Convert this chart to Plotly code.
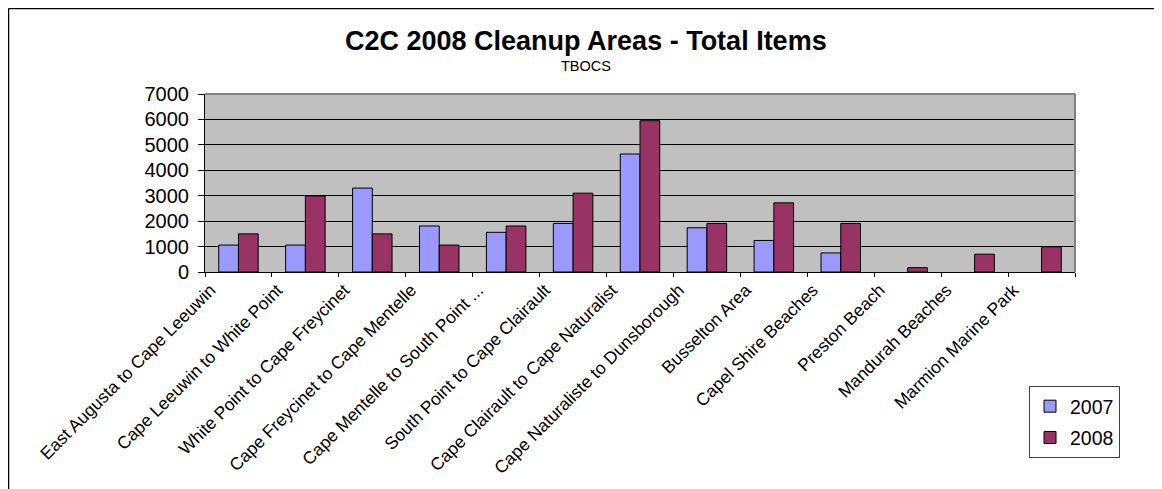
import plotly.graph_objects as go

categories = [
    "East Augusta to Cape Leeuwin",
    "Cape Leeuwin to White Point",
    "White Point to Cape Freycinet",
    "Cape Freycinet to Cape Mentelle",
    "Cape Mentelle to South Point ...",
    "South Point to Cape Clairault",
    "Cape Clairault to Cape Naturalist",
    "Cape Naturaliste to Dunsborough",
    "Busselton Area",
    "Capel Shire Beaches",
    "Preston Beach",
    "Mandurah Beaches",
    "Marmion Marine Park",
]
values_2007 = [1060, 1060, 3300, 1810, 1560, 1910, 4640, 1740, 1240, 750, None, None, None]
values_2008 = [1500, 2990, 1500, 1060, 1810, 3100, 5950, 1910, 2720, 1910, 170, 700, 990]
y_ticks = [0, 1000, 2000, 3000, 4000, 5000, 6000, 7000]

FONT = "Liberation Sans, Arial, sans-serif"

# page body has an 8px margin; work in reference-image pixels and subtract it
OFF = 8
W, H = 1162 - OFF, 489 - OFF
PLOT_L, PLOT_R, PLOT_T, PLOT_B = 205, 1075, 94, 272   # reference pixels
L = PLOT_L - OFF
T = PLOT_T - OFF
R = W - (PLOT_R - OFF)
B = H - (PLOT_B - OFF)
PW, PH = W - L - R, H - T - B

def px_x(p):
    return (p - OFF - L) / PW

def px_y(p):
    return (H - B - (p - OFF)) / PH

fig = go.Figure()
fig.add_trace(go.Bar(
    name="2007", x=categories, y=values_2007,
    marker=dict(color="#9999FF", line=dict(color="black", width=1)),
    legendgroup="a",
))
fig.add_trace(go.Bar(
    name="2008", x=categories, y=values_2008,
    marker=dict(color="#993366", line=dict(color="black", width=1)),
    legendgroup="b",
))

fig.update_layout(
    width=W, height=H,
    margin=dict(l=L, r=R, t=T, b=B, autoexpand=False),
    paper_bgcolor="white",
    plot_bgcolor="#C0C0C0",
    barmode="group",
    bargap=0.41,
    bargroupgap=0,
    font=dict(family=FONT, color="black"),
    showlegend=True,
    legend=dict(
        x=px_x(1029), y=px_y(386), xanchor="left", yanchor="top",
        bgcolor="white", bordercolor="#404040", borderwidth=1,
        font=dict(size=19.5, family=FONT),
        tracegroupgap=3,
    ),
)

fig.update_xaxes(
    type="category",
    tickangle=-45,
    tickfont=dict(size=17.5, family=FONT),
    showline=True, linecolor="black", linewidth=1,
    ticks="outside", ticklen=4, tickcolor="black",
    tickson="boundaries",
    showgrid=False,
    ticklabelshift=-28,
)
fig.update_yaxes(
    range=[0, 7000],
    tickvals=y_ticks,
    tickfont=dict(size=20, family=FONT),
    showline=True, linecolor="black", linewidth=1,
    ticks="outside", ticklen=6, tickcolor="black",
    ticklabelstandoff=5,
    showgrid=True, gridcolor="black", gridwidth=1,
    zeroline=False,
)

shapes = [
    # plot area border (top, right) in grey
    dict(type="line", xref="paper", yref="paper", x0=0, x1=1, y0=1, y1=1,
         line=dict(color="#808080", width=2), layer="above"),
    dict(type="line", xref="paper", yref="paper", x0=1, x1=1, y0=0, y1=1,
         line=dict(color="#808080", width=2), layer="above"),
    # outer chart border (top and left edges visible)
    dict(type="line", xref="paper", yref="paper", x0=px_x(8.5), x1=px_x(1170),
         y0=px_y(8.5), y1=px_y(8.5), line=dict(color="black", width=1.5)),
    dict(type="line", xref="paper", yref="paper", x0=px_x(8.5), x1=px_x(8.5),
         y0=px_y(8.5), y1=px_y(500), line=dict(color="black", width=1.5)),
]
fig.update_layout(shapes=shapes)

fig.add_annotation(
    text="<b>C2C 2008 Cleanup Areas - Total Items</b>",
    xref="paper", yref="paper", x=px_x(586), y=px_y(41),
    xanchor="center", yanchor="middle", showarrow=False,
    font=dict(size=27, family=FONT, color="black"),
)
fig.add_annotation(
    text="TBOCS",
    xref="paper", yref="paper", x=px_x(586), y=px_y(66),
    xanchor="center", yanchor="middle", showarrow=False,
    font=dict(size=14.5, family=FONT, color="black"),
)

fig.write_html("out.html")
